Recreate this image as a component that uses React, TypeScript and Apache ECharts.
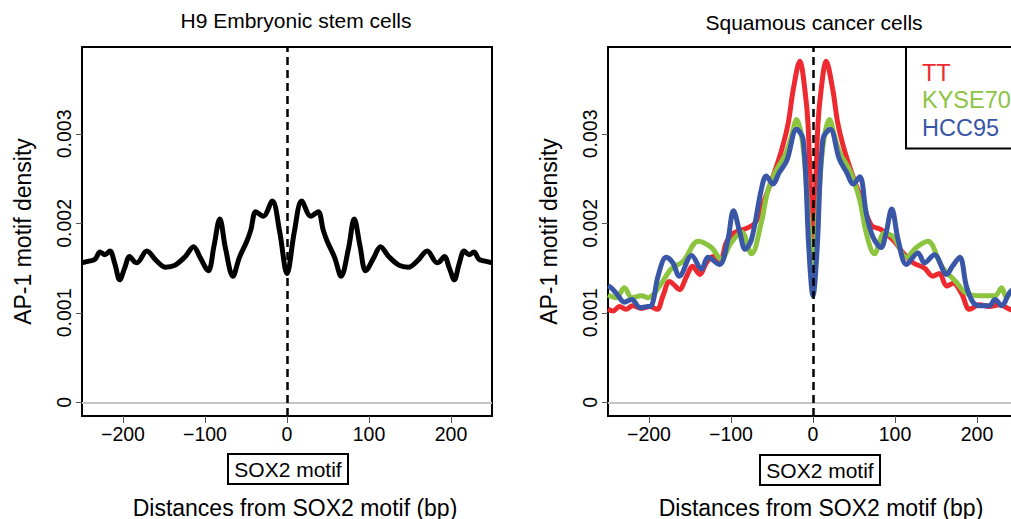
import React, { useEffect, useRef } from "react";
import * as echarts from "echarts";

// ---------- data (density in units of 0.001) ----------
const h9X = [-250, -240, -234, -228, -222, -216, -210, -204, -198, -192, -186, -183, -171, -159, -148, -137, -124, -114, -106, -96, -89, -82, -75, -66, -58, -49, -44, -38, -29, -18, -9, 0,
  9, 18, 29, 38, 44, 49, 58, 66, 75, 82, 89, 96, 106, 114, 124, 137, 148, 159, 171, 183, 186, 192, 198, 204, 210, 216, 222, 228, 234, 240, 250];
const h9Y = [1.56, 1.58, 1.60, 1.68, 1.65, 1.69, 1.55, 1.37, 1.50, 1.63, 1.57, 1.56, 1.69, 1.58, 1.51, 1.53, 1.63, 1.74, 1.62, 1.47, 1.75, 2.05, 1.72, 1.41, 1.62, 1.80, 1.93, 2.13, 2.08, 2.25, 1.91, 1.44,
  1.91, 2.25, 2.08, 2.13, 1.93, 1.80, 1.62, 1.41, 1.72, 2.05, 1.75, 1.47, 1.62, 1.74, 1.63, 1.53, 1.51, 1.58, 1.69, 1.56, 1.57, 1.63, 1.50, 1.37, 1.55, 1.69, 1.65, 1.68, 1.60, 1.58, 1.56];

const ttX = [-250, -244, -236, -228, -220, -209, -199, -190, -183, -175, -169, -163, -154, -147, -138, -130, -122, -113, -106, -97, -85, -71, -61, -47, -37, -30, -24, -16, -10, -6, 0,
  6, 10, 16, 24, 30, 37, 47, 61, 71, 83, 98, 110, 122, 136, 146, 154, 163, 171, 181, 191, 203, 215, 228, 240, 250];
const ttY = [1.04, 1.02, 1.07, 1.04, 1.08, 1.05, 1.07, 1.04, 1.19, 1.35, 1.31, 1.26, 1.41, 1.52, 1.43, 1.56, 1.63, 1.59, 1.78, 1.89, 1.93, 2.00, 2.22, 2.57, 2.86, 3.13, 3.50, 3.81, 3.50, 3.10, 1.75,
  3.10, 3.50, 3.81, 3.50, 3.13, 2.86, 2.57, 2.22, 1.98, 1.93, 1.81, 1.67, 1.56, 1.50, 1.41, 1.44, 1.30, 1.33, 1.22, 1.04, 1.09, 1.07, 1.09, 1.04, 1.03];

const kyX = [-250, -240, -230, -221, -209, -201, -187, -173, -158, -140, -124, -112, -100, -87, -75, -63, -55, -45, -33, -27, -20, -12, -5, 0,
  5, 12, 20, 27, 33, 45, 57, 65, 75, 87, 98, 114, 126, 140, 157, 175, 187, 203, 215, 222, 230, 236, 241, 250];
const kyY = [1.20, 1.17, 1.28, 1.17, 1.19, 1.17, 1.30, 1.49, 1.58, 1.80, 1.73, 1.60, 1.78, 1.90, 1.66, 2.01, 2.37, 2.59, 2.78, 2.95, 3.16, 2.85, 2.00, 1.55,
  2.00, 2.85, 3.16, 2.95, 2.78, 2.59, 2.26, 1.89, 1.66, 1.89, 1.85, 1.62, 1.73, 1.80, 1.52, 1.34, 1.22, 1.19, 1.19, 1.19, 1.28, 1.17, 1.22, 1.20];

const hcX = [-250, -246, -240, -230, -221, -211, -203, -197, -189, -179, -171, -163, -148, -136, -128, -114, -104, -97, -89, -83, -75, -63, -57, -49, -41, -32, -20, -12, -5, 0,
  5, 12, 21, 32, 41, 49, 57, 65, 73, 83, 89, 96, 104, 114, 128, 136, 148, 163, 170, 179, 187, 195, 203, 215, 222, 230, 240, 250];
const hcY = [1.30, 1.28, 1.22, 1.12, 1.15, 1.06, 1.07, 1.08, 1.41, 1.62, 1.56, 1.41, 1.64, 1.49, 1.62, 1.54, 1.81, 2.14, 1.89, 1.71, 1.82, 2.38, 2.53, 2.44, 2.57, 2.70, 3.05, 2.94, 1.71, 1.19,
  1.71, 2.94, 3.05, 2.72, 2.57, 2.44, 2.52, 2.11, 1.85, 1.73, 1.89, 2.16, 1.81, 1.54, 1.67, 1.56, 1.65, 1.43, 1.52, 1.62, 1.30, 1.12, 1.08, 1.08, 1.15, 1.08, 1.23, 1.30];

const xTicks = [-200, -100, 0, 100, 200];
const yTicks = [0, 1, 2, 3];

const FONT = "'Liberation Sans', Arial, Helvetica, sans-serif";
const RED = "#ED2A2F";
const GREEN = "#8CC43F";
const BLUE = "#3A56A6";

const pairs = (xs: number[], ys: number[]) => xs.map((x, i) => [x, ys[i]]);

function xAxisCfg(gridIndex: number) {
  return {
    type: "value",
    gridIndex,
    min: -250,
    max: 250,
    axisLine: { show: false, onZero: false },
    splitLine: { show: false },
    axisTick: { show: true, length: 7, lineStyle: { color: "#555", width: 1 }, customValues: xTicks },
    axisLabel: {
      customValues: xTicks,
      fontSize: 19.5,
      color: "#000",
      fontFamily: FONT,
      margin: 8,
      formatter: (v: number) => (v < 0 ? "\u2212" + Math.abs(v) : String(v)),
    },
    name: "Distances from SOX2 motif (bp)",
    nameLocation: "middle",
    nameGap: 80,
    nameTextStyle: { fontSize: 23, color: "#000", fontFamily: FONT, padding: [0, 0, 0, 16] },
  };
}

function yAxisCfg(gridIndex: number) {
  return {
    type: "value",
    gridIndex,
    min: -0.152,
    max: 3.97,
    axisLine: { show: false, onZero: false },
    splitLine: { show: false },
    axisTick: { show: true, length: 6, lineStyle: { color: "#555", width: 1 }, customValues: yTicks },
    axisLabel: {
      customValues: yTicks,
      fontSize: 19.5,
      color: "#000",
      fontFamily: FONT,
      rotate: 90,
      margin: 8,
      formatter: (v: number) => (v === 0 ? "0" : (v / 1000).toFixed(3)),
    },
    name: "AP-1 motif density",
    nameLocation: "middle",
    nameGap: 48,
    nameTextStyle: { fontSize: 23, color: "#000", fontFamily: FONT },
  };
}

function refLines(xi: number) {
  return {
    type: "line",
    name: "ref" + xi,
    xAxisIndex: xi,
    yAxisIndex: xi,
    data: [],
    z: 10,
    silent: true,
    markLine: {
      silent: true,
      symbol: ["none", "none"],
      label: { show: false },
      animation: false,
      data: [
        { yAxis: 0, lineStyle: { color: "#C4C4C4", width: 2, type: "solid" } },
        { xAxis: 0, lineStyle: { color: "#000", width: 2.5, type: [8, 5] } },
      ],
    },
  };
}

const gridCommon = {
  show: true,
  borderColor: "#000",
  borderWidth: 2,
  backgroundColor: "transparent",
  containLabel: false,
  outerBoundsMode: "none",
};

export default function App() {
  const ref = useRef<HTMLDivElement>(null);
  useEffect(() => {
    if (!ref.current) return;
    const chart = echarts.init(ref.current, undefined, { renderer: "svg" });
    const lineCommon = { type: "line", showSymbol: false, smooth: 0.35, silent: true };
    chart.setOption({
      animation: false,
      backgroundColor: "#fff",
      textStyle: { fontFamily: FONT },
      title: [
        { text: "H9 Embryonic stem cells", left: 296, top: 10, textAlign: "center", padding: 0, textStyle: { fontSize: 21, fontWeight: "normal", color: "#000", fontFamily: FONT } },
        { text: "Squamous cancer cells", left: 814, top: 12, textAlign: "center", padding: 0, textStyle: { fontSize: 21, fontWeight: "normal", color: "#000", fontFamily: FONT } },
      ],
      grid: [
        { ...gridCommon, left: 82, top: 47, width: 410, height: 369 },
        { ...gridCommon, left: 608, top: 47, width: 410, height: 369 },
      ],
      xAxis: [xAxisCfg(0), xAxisCfg(1)],
      yAxis: [yAxisCfg(0), yAxisCfg(1)],
      legend: {
        left: 906,
        top: 47,
        orient: "vertical",
        selectedMode: false,
        itemWidth: 0,
        itemHeight: 0,
        itemGap: 0,
        icon: "rect",
        padding: [12, 24, 7, 11],
        backgroundColor: "#fff",
        borderColor: "#000",
        borderWidth: 2,
        borderRadius: 0,
        z: 20,
        textStyle: { fontSize: 23.5, lineHeight: 27.5, fontFamily: FONT },
        data: [
          { name: "TT", textStyle: { color: RED } },
          { name: "KYSE70", textStyle: { color: GREEN } },
          { name: "HCC95", textStyle: { color: BLUE } },
        ],
      },
      graphic: [
        { type: "rect", shape: { x: 228, y: 454, width: 120, height: 30 }, style: { fill: "#fff", stroke: "#000", lineWidth: 2 } },
        { type: "text", x: 288, y: 469, style: { text: "SOX2 motif", fontSize: 21, fontFamily: FONT, fill: "#000", align: "center", verticalAlign: "middle" } },
        { type: "rect", shape: { x: 760, y: 455, width: 120, height: 30 }, style: { fill: "#fff", stroke: "#000", lineWidth: 2 } },
        { type: "text", x: 820, y: 470, style: { text: "SOX2 motif", fontSize: 21, fontFamily: FONT, fill: "#000", align: "center", verticalAlign: "middle" } },
      ],
      series: [
        { ...lineCommon, name: "H9", xAxisIndex: 0, yAxisIndex: 0, data: pairs(h9X, h9Y), lineStyle: { color: "#000", width: 5 }, itemStyle: { color: "#000" } },
        refLines(0),
        { ...lineCommon, name: "TT", xAxisIndex: 1, yAxisIndex: 1, data: pairs(ttX, ttY), lineStyle: { color: RED, width: 5 }, itemStyle: { color: RED } },
        { ...lineCommon, name: "KYSE70", xAxisIndex: 1, yAxisIndex: 1, data: pairs(kyX, kyY), lineStyle: { color: GREEN, width: 5 }, itemStyle: { color: GREEN } },
        { ...lineCommon, name: "HCC95", xAxisIndex: 1, yAxisIndex: 1, data: pairs(hcX, hcY), lineStyle: { color: BLUE, width: 5 }, itemStyle: { color: BLUE } },
        refLines(1),
      ],
    });
    return () => chart.dispose();
  }, []);
  return <div ref={ref} style={{ position: "fixed", left: 0, top: 0, width: 1011, height: 519 }} />;
}
